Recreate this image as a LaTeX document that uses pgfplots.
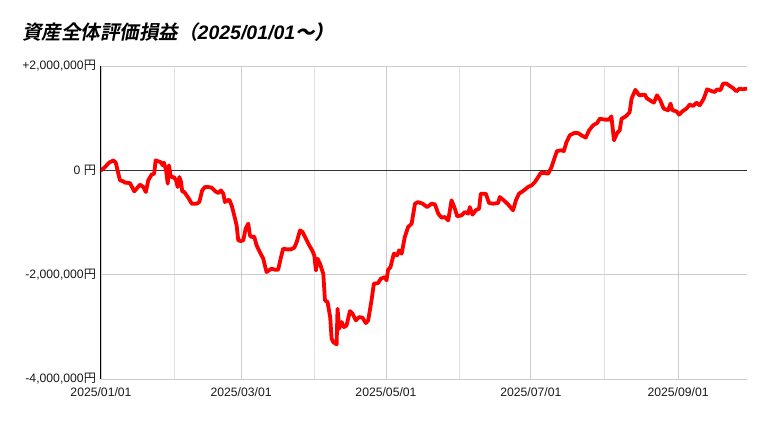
\documentclass[border=0pt]{standalone}
\usepackage{fontspec}
\setmainfont{Liberation Sans}
\newfontfamily\cjk{Noto Sans CJK JP}
\newfontfamily\cjkti{Noto Sans CJK JP}[FakeSlant=0.2, BoldFont={Noto Sans CJK JP Bold}, BoldFeatures={FakeSlant=0.2}]
\usepackage{pgfplots}
\pgfplotsset{compat=1.18}
\definecolor{pl}{HTML}{FF0000}
\definecolor{gridmaj}{HTML}{CCCCCC}
\definecolor{gridmin}{HTML}{E2E2E2}
\definecolor{lbl}{HTML}{1A1A1A}
\definecolor{zero}{HTML}{333333}

\begin{document}
\begin{tikzpicture}
\path[use as bounding box] (-101pt,-42pt) rectangle (668pt,379pt);
\begin{axis}[
  at={(0,0)}, anchor=south west, scale only axis, width=646pt, height=313pt,
  xmin=0, xmax=272, ymin=-4000000, ymax=2000000,
  xtick={0,59,120,181,243},
  xticklabels={2025/01/01,2025/03/01,2025/05/01,2025/07/01,2025/09/01},
  minor xtick={31,90,151,212},
  ytick={-4000000,-2000000,2000000},
  yticklabels={{-4,000,000{\cjk 円}},{-2,000,000{\cjk 円}},{+2,000,000{\cjk 円}}},
  extra y ticks={0}, extra y tick labels={{0 {\cjk 円}}},
  extra y tick style={grid=major, major grid style={zero, line width=1pt}},
  scaled y ticks=false,
  xmajorgrids, xminorgrids, ymajorgrids,
  major grid style={gridmaj, line width=0.8pt},
  minor grid style={gridmin, line width=0.8pt},
  axis x line*=bottom, axis y line*=left,
  x axis line style={gridmaj, line width=0.8pt, -},
  y axis line style={black, line width=1pt, -},
  major tick length=0pt, minor tick length=0pt,
  tick label style={font=\fontsize{12.2}{14}\selectfont, text=lbl},
  xticklabel style={yshift=-5pt},
  yticklabel style={xshift=-1.5pt},
]
\addplot[pl, line width=3.8pt, line join=round, line cap=round] coordinates {
(0,0) (1.7,63000) (3.4,148000) (4.5,173000) (5.2,192000) (6.2,148000) (7.3,-63000)
(8.0,-192000) (9.4,-211000) (10.1,-236000) (12.2,-244000) (14.0,-403000) (15.0,-351000)
(16.4,-274000) (17.8,-320000) (18.9,-416000) (19.9,-192000) (21.3,-82000) (22.4,-63000)
(23.0,192000) (24.1,173000) (25.1,159000) (26.0,96000) (26.5,148000) (27.4,0)
(28.1,-255000) (28.6,96000) (29.3,-96000) (30.0,-140000) (30.7,-128000) (31.6,-192000)
(32.3,-320000) (33.0,-128000) (33.7,-224000) (34.2,-403000) (35.1,-416000) (37.0,-543000)
(38.2,-639000) (40.3,-639000) (41.4,-608000) (42.6,-384000) (43.8,-320000)
(45.2,-320000) (46.6,-332000) (48.0,-397000) (49.4,-435000) (50.5,-384000) (51.5,-447000)
(52.2,-608000) (53.3,-575000) (54.0,-562000) (55.0,-671000) (56.1,-863000) (57.1,-1055000)
(57.8,-1342000) (58.9,-1356000) (59.9,-1342000) (60.9,-1118000) (62.0,-1022000)
(62.7,-1246000) (63.4,-1279000) (64.5,-1266000) (65.5,-1438000) (66.9,-1567000)
(68.3,-1693000) (69.7,-1950000) (70.7,-1918000) (71.8,-1885000) (73.2,-1904000)
(74.6,-1904000) (75.8,-1662000) (76.7,-1501000) (78.2,-1515000) (80.0,-1515000)
(81.4,-1482000) (82.4,-1375000) (83.8,-1151000) (84.9,-1183000) (86.3,-1310000)
(87.7,-1438000) (88.9,-1534000) (89.8,-1630000) (90.5,-1918000) (91.2,-1693000)
(92.2,-1789000) (93.6,-1981000) (94.3,-2493000) (95.4,-2525000) (96.5,-2813000)
(97.1,-3227000) (97.8,-3292000) (99.2,-3336000) (99.6,-2652000) (100.3,-3035000)
(101.3,-2909000) (102.3,-3005000) (103.4,-2972000) (104.8,-2698000) (105.9,-2748000)
(107.3,-2876000) (108.7,-2813000) (110.1,-2824000) (111.5,-2928000) (112.5,-2876000)
(113.9,-2493000) (114.9,-2172000) (116.7,-2161000) (117.8,-2077000) (119.5,-2046000)
(120.2,-2109000) (120.9,-1904000) (121.9,-1854000) (123.3,-1597000) (124.7,-1630000)
(125.5,-1534000) (126.6,-1597000) (127.9,-1279000) (129.3,-1087000) (130.8,-1022000)
(132.2,-639000) (133.5,-608000) (135.4,-639000) (137.3,-704000) (139.2,-639000)
(140.6,-652000) (142.0,-830000) (143.4,-907000) (144.8,-895000) (146.2,-959000)
(147.6,-575000) (149.0,-734000) (150.0,-882000) (151.8,-863000) (153.2,-800000)
(154.6,-830000) (155.3,-704000) (156.4,-849000) (157.8,-767000) (159.2,-734000)
(159.9,-447000) (162.0,-447000) (163.4,-627000) (165.1,-639000) (167.2,-627000)
(167.9,-512000) (169.6,-575000) (171.4,-652000) (173.5,-767000) (174.7,-575000)
(176.0,-447000) (177.7,-397000) (179.8,-320000) (181.3,-288000) (182.7,-224000)
(184.1,-128000) (185.1,-52000) (186.9,-52000) (188.3,-63000) (189.7,63000)
(191.1,255000) (192.0,370000) (193.9,384000) (194.9,370000) (196.0,543000)
(197.4,671000) (199.2,715000) (200.9,715000) (202.3,671000) (204.1,627000)
(205.5,767000) (207.2,863000) (208.9,907000) (210.0,991000) (212.1,972000)
(213.9,972000) (214.9,1035000) (216.0,575000) (217.3,715000) (218.4,767000)
(219.2,991000) (221.0,1035000) (222.3,1099000) (222.6,1118000) (223.4,1375000)
(225.0,1544000) (226.6,1438000) (229.0,1452000) (229.7,1386000) (231.8,1323000)
(232.8,1298000) (234.1,1438000) (235.5,1342000) (236.9,1183000) (238.8,1151000)
(239.8,1279000) (240.6,1151000) (242.3,1131000) (243.4,1068000) (244.8,1131000)
(246.5,1183000) (247.9,1260000) (249.3,1233000) (250.7,1298000) (252.1,1246000)
(253.8,1375000) (255.2,1553000) (257.0,1521000) (258.4,1501000) (259.4,1553000)
(260.8,1534000) (261.9,1662000) (263.4,1662000) (264.8,1616000) (266.1,1578000)
(267.5,1515000) (268.9,1567000) (270.3,1553000) (271.8,1567000)
};
\end{axis}
\node[anchor=base west, inner sep=0pt, font=\fontsize{19.5}{22}\selectfont\bfseries] at (-79pt,339pt)
  {{\cjkti 資産全体評価損益（}\itshape 2025/01/01{\cjkti ～）}};
\end{tikzpicture}
\end{document}
